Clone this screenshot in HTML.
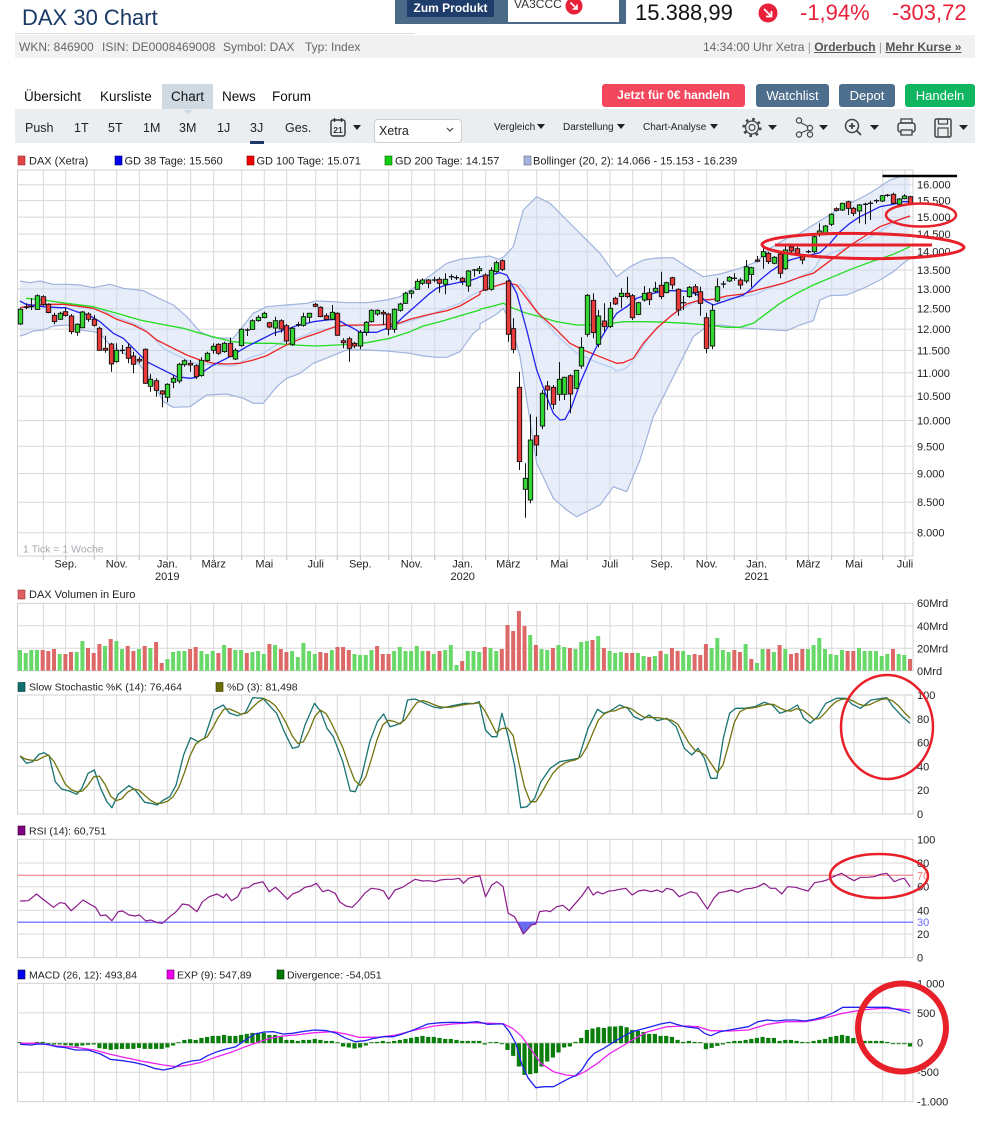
<!DOCTYPE html>
<html><head><meta charset="utf-8"><title>DAX 30 Chart</title>
<style>
*{margin:0;padding:0;box-sizing:border-box}
html,body{width:986px;height:1125px;overflow:hidden;background:#fff}
body{position:relative;font-family:"Liberation Sans",Arial,sans-serif;color:#222}
.a{position:absolute;white-space:nowrap}
.btn{position:absolute;top:84px;height:23px;border-radius:3px;color:#fff;font-size:13px;line-height:23px;text-align:center}
.tb{position:absolute;top:120px;font-size:12.5px;line-height:16px;color:#222;white-space:nowrap}
.tb2{position:absolute;top:121px;font-size:10px;line-height:14px;color:#222;white-space:nowrap}
.tab{position:absolute;top:89px;font-size:13.5px;line-height:16px;color:#111;white-space:nowrap}
.inf{position:absolute;top:40px;font-size:12px;line-height:14px;color:#666;white-space:nowrap}
svg{position:absolute;left:0;top:0}
</style></head><body>
<div class="a" style="left:22px;top:4px;font-size:22px;line-height:28px;color:#1a3966">DAX 30 Chart</div>
<div class="a" style="left:395px;top:0;width:231px;height:24px;background:#4b6a88"></div>
<div class="a" style="left:407px;top:0;width:87px;height:17px;background:#1f3d6b;color:#fff;font-size:12px;font-weight:bold;line-height:17px;text-align:center">Zum Produkt</div>
<div class="a" style="left:508px;top:0;width:111px;height:22px;background:#fff"></div>
<div class="a" style="left:514px;top:-3px;font-size:12px;line-height:14px;color:#333">VA3CCC</div>
<div class="a" style="left:635px;top:0;font-size:22px;line-height:26px;color:#111">15.388,99</div>
<div class="a" style="left:800px;top:0;font-size:22px;line-height:26px;color:#e8203a">-1,94%</div>
<div class="a" style="left:892px;top:0;font-size:22px;line-height:26px;color:#e8203a">-303,72</div>

<div class="a" style="left:15px;top:33px;width:400px;height:1px;background:#dedede"></div>
<div class="a" style="left:15px;top:35px;width:960px;height:23px;background:#f1f1f1"></div>
<div class="inf" style="left:19px">WKN: 846900</div>
<div class="inf" style="left:102px">ISIN: DE0008469008</div>
<div class="inf" style="left:223px">Symbol: DAX</div>
<div class="inf" style="left:305px">Typ: Index</div>
<div class="inf" style="left:703px">14:34:00 Uhr Xetra <span style="color:#999">|</span> <span style="text-decoration:underline;color:#555;font-weight:bold">Orderbuch</span> <span style="color:#999">|</span> <span style="text-decoration:underline;color:#555;font-weight:bold">Mehr Kurse »</span></div>

<div class="a" style="left:162px;top:84px;width:51px;height:26px;background:#cfd9e2"></div>
<div class="tab" style="left:24px">Übersicht</div>
<div class="tab" style="left:100px">Kursliste</div>
<div class="tab" style="left:171px">Chart</div>
<div class="tab" style="left:222px">News</div>
<div class="tab" style="left:272px">Forum</div>

<div class="btn" style="left:602px;width:143px;background:#f2475c;font-weight:bold;font-size:12px">Jetzt für 0€ handeln</div>
<div class="btn" style="left:756px;width:73px;background:#4d6e8c">Watchlist</div>
<div class="btn" style="left:839px;width:56px;background:#4d6e8c">Depot</div>
<div class="btn" style="left:905px;width:70px;background:#10b560">Handeln</div>

<div class="a" style="left:15px;top:109px;width:960px;height:34px;background:#eaeef1"></div>
<div class="tb" style="left:25px">Push</div>
<div class="tb" style="left:74px">1T</div>
<div class="tb" style="left:108px">5T</div>
<div class="tb" style="left:143px">1M</div>
<div class="tb" style="left:179px">3M</div>
<div class="tb" style="left:217px">1J</div>
<div class="tb" style="left:250px">3J</div>
<div class="a" style="left:250px;top:141px;width:14px;height:3px;background:#1a3966"></div>
<div class="tb" style="left:285px">Ges.</div>
<div class="a" style="left:374px;top:119px;width:88px;height:24px;background:#fff;border:1px solid #cfcfcf;border-radius:4px"></div>
<div class="tb" style="left:379px;top:123px">Xetra</div>
<div class="tb2" style="left:494px">Vergleich</div>
<div class="tb2" style="left:563px">Darstellung</div>
<div class="tb2" style="left:643px">Chart-Analyse</div>

<svg width="986" height="1125" viewBox="0 0 986 1125" font-family="Liberation Sans, Arial, sans-serif">
<circle cx="574" cy="6" r="8.5" fill="#e8203a"/>
<path d="M570.5 2.5 L577 9 M577 4.5 L577 9 L572.5 9" stroke="#fff" stroke-width="1.6" fill="none"/>
<circle cx="768" cy="13" r="9.5" fill="#e8203a"/>
<path d="M764 9 L771.5 16.5 M771.5 11 L771.5 16.5 L766 16.5" stroke="#fff" stroke-width="1.8" fill="none"/>
<polygon points="183,110 193,110 188,114" fill="#cfd9e2"/>
<rect x="331" y="120" width="14" height="16" rx="2" fill="none" stroke="#333" stroke-width="1.4"/>
<line x1="334.5" y1="118" x2="334.5" y2="122" stroke="#333" stroke-width="1.4"/>
<line x1="341.5" y1="118" x2="341.5" y2="122" stroke="#333" stroke-width="1.4"/>
<text x="338" y="133" font-size="8.5" font-weight="bold" text-anchor="middle" fill="#333">21</text>
<polygon points="353,125 361,125 357,130" fill="#222"/>
<polyline points="447,128 450,131 453,128" fill="none" stroke="#444" stroke-width="1.2"/>
<polygon points="537,124 545,124 541,129" fill="#222"/>
<polygon points="617,124 625,124 621,129" fill="#222"/>
<polygon points="710,124 718,124 714,129" fill="#222"/>
<circle cx="752" cy="127.5" r="6.5" fill="none" stroke="#444" stroke-width="1.3"/>
<circle cx="752" cy="127.5" r="8.3" fill="none" stroke="#444" stroke-width="2.6" stroke-dasharray="2.6 3.9"/>
<circle cx="752" cy="127.5" r="3" fill="none" stroke="#444" stroke-width="1.2"/>
<polygon points="768,125 777,125 772.5,130" fill="#222"/>
<circle cx="799" cy="120.5" r="2.6" fill="none" stroke="#444" stroke-width="1.2"/>
<circle cx="810" cy="128" r="2.6" fill="none" stroke="#444" stroke-width="1.2"/>
<circle cx="799" cy="134.5" r="2.6" fill="none" stroke="#444" stroke-width="1.2"/>
<circle cx="810" cy="134.5" r="2.6" fill="none" stroke="#444" stroke-width="1.2"/>
<path d="M800.5 122.5 L808 126.5 M808 130 L800.5 133" stroke="#444" stroke-width="1.2"/>
<polygon points="819,125 828,125 823.5,130" fill="#222"/>
<circle cx="852" cy="126" r="6.5" fill="none" stroke="#444" stroke-width="1.5"/>
<path d="M856.5 130.5 L861 135 M849 126 L855 126 M852 123 L852 129" stroke="#444" stroke-width="1.8"/>
<polygon points="870,125 879,125 874.5,130" fill="#222"/>
<rect x="898" y="123" width="17" height="9" rx="2.5" fill="none" stroke="#444" stroke-width="1.5"/>
<rect x="901" y="119" width="11" height="4" fill="none" stroke="#444" stroke-width="1.3"/>
<rect x="901" y="130" width="11" height="5" fill="#eaeef1" stroke="#444" stroke-width="1.3"/>
<rect x="935" y="119" width="16" height="18" rx="1.5" fill="none" stroke="#444" stroke-width="1.5"/>
<rect x="938.5" y="119" width="9" height="5" fill="none" stroke="#444" stroke-width="1.2"/>
<rect x="938" y="128" width="10" height="9" fill="none" stroke="#444" stroke-width="1.2"/>
<polygon points="959,125 968,125 963.5,130" fill="#222"/>

<g id="grid"></g>
<g id="dyn"></g>

<g font-size="11" fill="#222">
<rect x="18" y="156" width="7" height="9" fill="#e04444" stroke="#933" stroke-width="0.6"/><text x="29" y="164.5">DAX (Xetra)</text>
<rect x="115" y="156" width="7" height="9" fill="#0000ee" stroke="#006" stroke-width="0.6"/><text x="124.5" y="164.5">GD 38 Tage: 15.560</text>
<rect x="247" y="156" width="7" height="9" fill="#ee0000" stroke="#800" stroke-width="0.6"/><text x="256.5" y="164.5">GD 100 Tage: 15.071</text>
<rect x="385" y="156" width="7" height="9" fill="#11cc11" stroke="#060" stroke-width="0.6"/><text x="395" y="164.5">GD 200 Tage: 14.157</text>
<rect x="524" y="156" width="7" height="9" fill="#a4b4dc" stroke="#667" stroke-width="0.6"/><text x="533" y="164.5">Bollinger (20, 2): 14.066 - 15.153 - 16.239</text>
</g>
<text x="23" y="552.5" font-size="10.5" fill="#a8a8b0">1 Tick = 1 Woche</text>
<g font-size="11" fill="#222">
<text x="917" y="188.7">16.000</text><text x="917" y="204.6">15.500</text><text x="917" y="221.1">15.000</text>
<text x="917" y="238.1">14.500</text><text x="917" y="255.7">14.000</text><text x="917" y="274">13.500</text>
<text x="917" y="292.9">13.000</text><text x="917" y="312.6">12.500</text><text x="917" y="333.1">12.000</text>
<text x="917" y="354.5">11.500</text><text x="917" y="376.8">11.000</text><text x="917" y="400.2">10.500</text>
<text x="917" y="424.6">10.000</text><text x="917" y="450.3">9.500</text><text x="917" y="477.5">9.000</text>
<text x="917" y="506.2">8.500</text><text x="917" y="536.7">8.000</text>
</g>
<g font-size="11" fill="#222" text-anchor="middle">
<text x="65.7" y="567.5">Sep.</text><text x="116.7" y="567.5">Nov.</text><text x="167.3" y="567.5">Jan.</text>
<text x="213.7" y="567.5">März</text><text x="264.3" y="567.5">Mai</text><text x="315.7" y="567.5">Juli</text>
<text x="360.3" y="567.5">Sep.</text><text x="411.7" y="567.5">Nov.</text><text x="462.7" y="567.5">Jan.</text>
<text x="508.3" y="567.5">März</text><text x="559.3" y="567.5">Mai</text><text x="610" y="567.5">Juli</text>
<text x="661.7" y="567.5">Sep.</text><text x="706.7" y="567.5">Nov.</text><text x="756.7" y="567.5">Jan.</text>
<text x="808.3" y="567.5">März</text><text x="854" y="567.5">Mai</text><text x="905" y="567.5">Juli</text>
<text x="167.3" y="580">2019</text><text x="462.7" y="580">2020</text><text x="756.7" y="580">2021</text>
</g>
<g font-size="11" fill="#222">
<rect x="18" y="590" width="7" height="9" fill="#dd6060" stroke="#933" stroke-width="0.6"/><text x="29" y="598">DAX Volumen in Euro</text>
<text x="917" y="607">60Mrd</text><text x="917" y="630">40Mrd</text><text x="917" y="652.5">20Mrd</text><text x="917" y="675">0Mrd</text>
</g>
<g font-size="10.5" fill="#222">
<rect x="18" y="682.5" width="7" height="9" fill="#107070" stroke="#033" stroke-width="0.6"/><text x="29" y="690.5">Slow Stochastic %K (14): 76,464</text>
<rect x="216" y="682.5" width="7" height="9" fill="#6e6e08" stroke="#330" stroke-width="0.6"/><text x="227" y="690.5">%D (3): 81,498</text>
</g>
<g font-size="11" fill="#222">
<text x="917" y="699">100</text><text x="917" y="722.8">80</text><text x="917" y="746.6">60</text>
<text x="917" y="770.4">40</text><text x="917" y="794.2">20</text><text x="917" y="818">0</text>
</g>
<g font-size="10.5" fill="#222">
<rect x="18" y="826" width="7" height="9" fill="#800080" stroke="#303" stroke-width="0.6"/><text x="29" y="834.5">RSI (14): 60,751</text>
</g>
<g font-size="11" fill="#222">
<text x="917" y="843.3">100</text><text x="917" y="867">80</text><text x="917" y="879.3" fill="#f08080">70</text>
<text x="917" y="890.7">60</text><text x="917" y="914.3">40</text><text x="917" y="926.2" fill="#6a6aff">30</text>
<text x="917" y="938">20</text><text x="917" y="961.7">0</text>
</g>
<g font-size="10.5" fill="#222">
<rect x="18" y="970" width="7" height="9" fill="#0000ee" stroke="#003" stroke-width="0.6"/><text x="29" y="978.5">MACD (26, 12): 493,84</text>
<rect x="167" y="970" width="7" height="9" fill="#ee00ee" stroke="#606" stroke-width="0.6"/><text x="177" y="978.5">EXP (9): 547,89</text>
<rect x="277" y="970" width="7" height="9" fill="#007700" stroke="#030" stroke-width="0.6"/><text x="287" y="978.5">Divergence: -54,051</text>
</g>
<g font-size="11" fill="#222">
<text x="917" y="987.3">1.000</text><text x="917" y="1016.9">500</text><text x="917" y="1046.5">0</text>
<text x="917" y="1076.1">-500</text><text x="917" y="1105.7">-1.000</text>
</g>

<line x1="882.5" y1="176" x2="957" y2="176" stroke="#000" stroke-width="2.5"/>
<ellipse cx="921" cy="215" rx="35" ry="11.5" fill="none" stroke="#e8202a" stroke-width="2.5"/>
<ellipse cx="863" cy="246" rx="101" ry="12.5" fill="none" stroke="#e8202a" stroke-width="3" transform="rotate(0.8 863 246)"/>
<line x1="775" y1="245" x2="932" y2="245" stroke="#e8202a" stroke-width="3"/>
<ellipse cx="887" cy="727" rx="46" ry="52" fill="none" stroke="#e8202a" stroke-width="2.5"/>
<ellipse cx="879" cy="876" rx="49" ry="22" fill="none" stroke="#e8202a" stroke-width="2.5"/>
<ellipse cx="902" cy="1027.5" rx="44" ry="44" fill="none" stroke="#e8202a" stroke-width="6"/>
</svg>

<script>
(function(){
const VX=[43.3,65.7,94.3,116.7,139.3,167.3,190.7,213.7,241.7,264.3,286.7,315.7,337.3,360.3,388.7,411.7,434.7,462.7,485.7,508.3,536.7,559.3,587.3,610,632.7,661.7,684,706.7,734.3,756.7,786,808.3,831.7,854,882.7,905];
let g='';
function panel(y1,y2,hy){
  VX.forEach(x=>g+=`<line x1="${x}" y1="${y1}" x2="${x}" y2="${y2}" stroke="#d8d8d8" stroke-width="1"/>`);
  hy.forEach(y=>g+=`<line x1="17.5" y1="${y}" x2="913" y2="${y}" stroke="#d8d8d8" stroke-width="1"/>`);
  g+=`<rect x="17.5" y="${y1}" width="895.5" height="${(y2-y1).toFixed(1)}" fill="none" stroke="#d0d0d0" stroke-width="1"/>`;
}
panel(170,556,[184.7,200.6,217.1,234.1,251.7,270,288.9,308.6,329.1,350.5,372.8,396.2,420.6,446.3,473.5,502.2,532.7]);
VX.forEach(x=>g+=`<line x1="${x}" y1="556" x2="${x}" y2="560" stroke="#bbb"/>`);
panel(603.3,670.7,[625.8,648.2]);
panel(695,814,[718.8,742.6,766.4,790.2]);
panel(839.3,957.7,[863,886.7,910.3,934]);
panel(983.3,1101.7,[1012.9,1042.8,1072.3]);
document.getElementById('grid').innerHTML=g;

function pairs(a){const r=[];for(let i=0;i+1<a.length;i+=2)r.push([a[i],a[i+1]]);return r;}
function Z23(a2,a3){return pairs(a2).filter(p=>p[0]<=1440).map(p=>[p[0]/3,170+p[1]/3]).concat(pairs(a3).map(p=>[480+p[0]/3,170+p[1]/3]));}
function ZF(a,y0){return pairs(a).map(p=>[p[0]/1.59,y0+p[1]/3]);}
function P(pts){return pts.map(p=>p[0].toFixed(1)+','+p[1].toFixed(1)).join(' ');}
function interp(pts,x){if(x<=pts[0][0])return pts[0][1];for(let i=1;i<pts.length;i++){if(x<=pts[i][0]){const a=pts[i-1],b=pts[i];return a[1]+(b[1]-a[1])*(x-a[0])/((b[0]-a[0])||1);}}return pts[pts.length-1][1];}
let o='';
function pl(pts,c,w){o+=`<polyline points="${P(pts)}" fill="none" stroke="${c}" stroke-width="${w}" stroke-linejoin="round"/>`;}

const up2=[60,333,90,338,120,333,160,343,200,343,240,345,280,353,330,343,370,355,430,362,470,382,520,405,560,440,600,485,640,503,700,505,760,430,800,410,860,405,920,400,950,393,1000,395,1040,398,1100,398,1160,390,1200,380,1240,355,1290,317,1340,280,1380,268,1430,262,1440,261];
const up3=[0,262,30,258,55,268,70,262,100,230,130,120,170,80,210,100,260,150,310,200,360,250,410,320,450,290,490,270,530,264,580,263,620,290,670,320,720,312,780,295,830,275,870,235,920,205,960,190,1000,165,1040,140,1080,115,1120,95,1160,75,1200,50,1230,30,1260,20,1290,18];
const lo2=[60,498,80,492,100,483,130,480,160,468,200,465,240,480,280,485,300,490,330,525,380,555,420,585,460,640,490,695,520,712,570,710,620,675,680,672,730,685,760,700,790,700,830,650,860,625,900,610,940,580,990,560,1040,540,1100,540,1160,543,1230,550,1270,558,1310,562,1340,562,1380,545,1420,490,1440,475];
const lo3=[0,462,50,432,70,415,90,455,120,560,170,880,220,985,260,1020,290,1040,330,1020,360,1005,400,950,440,965,480,870,520,740,560,660,600,580,640,500,680,470,720,465,780,473,850,478,920,482,960,465,1000,452,1020,390,1050,377,1100,375,1150,355,1200,330,1240,305,1270,280,1290,265];
const blue2=[60,393,78,403,130,410,180,413,197,413,230,425,265,435,300,455,340,490,370,505,400,535,440,575,470,590,500,605,530,620,570,625,590,622,610,605,640,585,680,565,710,548,740,530,780,510,820,490,860,478,890,467,910,463,940,455,980,450,1010,448,1040,465,1060,475,1080,487,1100,487,1130,487,1160,475,1185,465,1210,440,1250,405,1290,370,1310,355,1340,345,1380,337,1400,335,1430,325];
const blue3=[0,320,30,315,60,308,80,315,110,370,140,480,170,600,200,680,220,730,240,750,255,748,275,710,300,640,330,570,360,510,390,460,410,430,440,410,470,385,500,375,540,365,570,362,600,362,630,365,660,378,680,395,700,405,720,398,760,385,790,375,810,360,840,330,870,305,900,285,930,270,960,262,990,255,1020,248,1050,220,1080,185,1110,160,1140,140,1170,125,1200,110,1240,103,1270,95,1290,95];
const red2=[60,413,100,405,150,403,190,403,230,408,280,415,320,432,350,448,400,465,440,485,470,510,510,530,560,555,600,570,640,580,680,582,720,580,760,570,800,557,840,535,880,515,920,500,960,487,1000,472,1030,466,1080,465,1130,465,1160,463,1190,462,1230,448,1280,435,1340,422,1380,408,1420,385,1440,373];
const red3=[0,365,40,350,80,338,110,345,140,385,175,430,220,470,270,520,310,540,360,560,410,580,430,578,460,565,490,520,530,475,570,440,620,402,660,390,700,388,740,378,790,372,830,360,870,350,910,340,950,325,1000,310,1040,280,1080,250,1120,220,1160,195,1200,170,1240,155,1290,138];
const green2=[78,385,130,390,200,400,280,410,350,430,420,450,480,462,550,475,600,490,650,503,700,515,750,520,820,520,880,525,950,528,1010,525,1060,522,1100,518,1170,505,1230,485,1270,468,1320,455,1380,437,1440,420];
const green3=[0,418,40,408,70,400,100,415,140,430,180,440,230,455,290,465,320,465,380,462,430,455,500,455,560,457,620,460,680,465,740,472,780,472,820,460,860,430,900,400,950,370,1000,345,1060,320,1120,295,1180,273,1240,253,1290,230];

const U=Z23(up2,up3), L=Z23(lo2,lo3);
o+=`<polygon points="${P(U)} ${P(L.slice().reverse())}" fill="#c9d9f4" fill-opacity="0.45" stroke="none"/>`;
pl(U,'#9fb3de',1.2);pl(L,'#9fb3de',1.2);
const pr=y=>16000*Math.exp(-(y-184.7)/502), yp=p=>184.7+502*Math.log(16000/p);
const M=[];for(let x=20;x<=910;x+=4){M.push([x,yp((pr(interp(U,x))+pr(interp(L,x)))/2)]);}
pl(M,'#bcd0f2',1.5);
pl(Z23(green2,green3),'#22dd22',1.3);
pl(Z23(red2,red3),'#ee2222',1.3);
pl(Z23(blue2,blue3),'#2222ee',1.3);

const C=[418,462,1,415,465,412,412,2,400,418,410,410,2,385,420,377,418,1,373,420,380,403,0,376,408,403,428,0,400,430,436,455,0,428,463,430,448,1,425,450,425,436,0,412,440,438,485,0,432,493,463,487,1,460,497,426,473,1,423,475,432,448,0,427,455,448,466,0,435,470,475,541,0,470,542,535,541,0,497,548,522,582,0,518,605,541,575,1,520,578,541,541,2,525,552,532,565,0,520,580,558,583,0,545,610,568,573,0,560,580,538,640,0,535,642,628,649,1,612,665,632,661,0,625,680,663,672,0,660,712,643,682,1,640,697,625,637,1,615,655,583,633,1,578,640,572,584,1,568,590,580,585,0,570,605,587,620,0,583,627,571,617,1,562,620,550,572,1,545,575,529,541,1,520,551,523,550,0,520,555,520,545,1,515,548,520,560,0,503,562,541,567,1,535,570,478,527,1,475,530,480,480,2,475,498,452,478,1,448,480,442,452,1,436,455,430,443,1,425,445,458,471,0,455,475,452,474,1,440,498,452,477,0,448,488,467,513,0,462,522,475,523,1,470,528,464,464,2,455,470,440,466,1,428,470,430,442,1,428,457,403,409,0,399,412,412,440,0,409,442,437,448,0,430,452,427,448,1,405,450,430,496,0,427,498,512,518,0,505,535,506,535,0,500,575,520,528,0,515,535,487,528,1,480,538,457,487,1,453,497,421,455,1,418,458,421,432,1,418,437,427,432,0,420,465,432,478,0,428,496,418,478,1,415,488,402,421,1,398,425,370,400,1,365,402,363,370,1,360,385,334,358,1,326,360,330,340,1,325,345,330,340,0,327,355,330,330,2,320,337,328,340,0,322,368,328,343,1,310,373,320,320,2,313,330,323,323,2,316,330,325,334,0,320,345,303,348,1,300,365,300,300,2,297,320,296,302,1,288,312,315,360,0,310,363,301,358,1,292,362,278,305,1,272,308,
272,298,0,268,303,333,493,0,330,515,476,538,0,445,550,652,875,0,605,900,925,958,1,880,1043,810,990,1,733,1000,797,825,0,740,858,670,768,1,660,778,648,660,0,633,720,652,703,0,645,718,628,673,1,576,692,622,673,1,620,690,617,672,0,613,730,601,655,1,600,658,532,588,1,502,596,376,493,1,372,500,391,488,0,370,505,438,523,1,420,532,453,470,0,400,485,415,470,1,396,474,385,402,0,380,405,370,380,1,355,415,370,380,0,320,385,377,443,0,372,450,398,433,1,395,436,370,390,1,348,395,368,389,0,355,405,355,364,1,335,368,346,380,0,305,388,338,368,1,335,370,323,345,0,320,358,358,420,0,355,437,398,398,2,378,420,352,380,1,348,383,350,368,0,342,378,365,400,0,350,437,443,535,0,428,550,421,528,1,403,538,350,393,1,325,397,342,342,2,333,353,322,333,1,318,336,325,325,2,310,332,330,345,0,323,358,290,333,1,270,340,293,313,1,290,352,270,274,0,258,277,245,260,1,235,296,250,275,0,245,282,262,280,1,258,283,252,310,0,248,325,240,296,1,228,300,231,243,0,228,248,236,250,0,230,255,260,270,0,255,283,245,245,2,240,250,200,245,1,195,250,183,195,1,160,200,168,193,1,165,196,133,163,1,130,168,116,121,0,112,124,100,120,1,98,123,95,115,0,92,135,115,130,0,110,138,105,123,1,102,160,103,103,2,98,163,100,100,2,92,150,92,92,2,88,100,77,93,1,75,96,76,76,2,72,80,73,100,0,68,102,87,103,1,84,106,78,86,1,73,88,80,100,0,77,104];
const N=Math.floor(C.length/5), DX=890/(N-1), Y=v=>170+v/3, CX=[];
for(let i=0;i<N;i++){
  const x=20+i*DX; CX.push(x);
  const bt=Y(C[i*5]),bb=Y(C[i*5+1]),c=C[i*5+2],wt=Y(C[i*5+3]),wb=Y(C[i*5+4]);
  const xr=(Math.round(x)+0.5);
  o+=`<line x1="${xr}" y1="${wt.toFixed(1)}" x2="${xr}" y2="${wb.toFixed(1)}" stroke="#111" stroke-width="1"/>`;
  if(c===2){o+=`<line x1="${(xr-2.6).toFixed(1)}" y1="${bt.toFixed(1)}" x2="${(xr+2.6).toFixed(1)}" y2="${bt.toFixed(1)}" stroke="#111" stroke-width="1.3"/>`;}
  else{const h=Math.max(bb-bt,1.2);o+=`<rect x="${(xr-2.2).toFixed(1)}" y="${bt.toFixed(1)}" width="4.4" height="${h.toFixed(1)}" fill="${c?'#33d633':'#e83a3a'}" stroke="#111" stroke-width="0.9"/>`;}
}
// volume (top in 3x zoom units from y=600; 1 green, 0 red)
const V=[150,1,159,1,150,1,150,1,150,0,153,0,147,0,162,1,162,0,156,0,156,1,123,1,144,0,159,0,132,0,138,1,117,0,123,1,147,1,138,0,153,0,147,1,138,0,144,1,126,0,189,0,177,1,156,1,153,1,153,1,147,0,141,0,153,1,162,1,153,1,159,0,135,1,144,0,150,1,150,1,159,0,156,1,153,1,162,1,132,0,135,1,147,0,156,0,153,1,171,1,129,1,153,1,162,1,156,0,159,0,150,1,141,0,141,0,150,0,162,1,165,1,165,1,150,1,138,0,162,0,162,0,153,1,141,1,153,1,153,1,138,1,153,1,153,0,162,1,153,0,150,1,135,1,195,1,183,0,153,1,153,1,156,1,141,0,144,1,153,1,147,0,75,0,93,0,33,0,78,0,105,1,135,0,147,1,150,1,144,0,135,1,141,1,144,0,147,1,126,1,123,1,120,0,108,1,144,0,153,1,159,1,156,1,159,0,159,0,159,1,168,1,171,0,168,1,153,0,162,1,144,0,153,0,153,1,165,1,162,0,165,0,132,0,144,1,114,1,150,1,156,1,150,0,156,0,132,1,177,0,189,1,147,1,147,0,156,1,135,0,147,1,162,0,159,0,147,0,147,1,135,1,114,1,147,1,162,1,165,1,150,1,153,0,153,0,144,1,153,1,153,1,153,1,168,1,162,1,147,0,162,1,165,1,177,0];
const NV=Math.min(N,V.length/2);
for(let i=0;i<NV;i++){const top=600+V[i*2]/3;o+=`<rect x="${(CX[i]-2).toFixed(1)}" y="${top.toFixed(1)}" width="4" height="${(670.7-top).toFixed(1)}" fill="${V[i*2+1]?'#68d868':'#dc6868'}"/>`;}
// stochastic
const K=ZF([32,513,42,535,52,530,62,508,70,503,78,512,88,590,98,612,110,618,122,628,130,610,140,565,150,555,160,610,170,650,178,668,188,628,205,602,215,615,230,652,240,655,250,660,260,645,270,635,280,600,292,510,303,458,315,470,325,460,340,375,355,360,365,385,378,392,390,383,402,338,418,340,430,365,440,385,452,440,465,490,475,485,485,420,500,355,510,380,520,430,530,455,545,530,557,618,565,620,575,575,588,470,600,410,610,387,620,425,630,420,640,410,648,345,660,342,672,352,688,365,700,370,712,365,725,360,740,355,752,356,762,350,772,435,782,455,790,455,798,385,808,455,818,540,828,668,838,665,850,640,860,590,875,550,890,530,905,525,920,520,935,430,950,373,960,385,970,378,985,360,998,370,1008,395,1020,405,1032,390,1045,407,1060,400,1075,425,1088,490,1100,510,1110,490,1120,520,1130,580,1140,580,1150,460,1160,385,1170,370,1185,370,1200,365,1215,352,1228,360,1240,385,1255,375,1268,360,1278,400,1288,415,1300,395,1313,355,1330,340,1345,340,1355,358,1368,370,1385,345,1410,338,1420,365,1435,395,1447,415],585);
const KS=CX.map(x=>interp(K,x)), D=[];
for(let i=0;i<N;i++){const a=KS.slice(Math.max(0,i-2),i+1);D.push([CX[i],a.reduce((s,v)=>s+v,0)/a.length]);}
pl(K,'#177372',1.3);pl(D,'#72720c',1.3);
// RSI
o+=`<line x1="17.5" y1="875.3" x2="913" y2="875.3" stroke="#f07070" stroke-width="1"/>`;
o+=`<line x1="17.5" y1="922.2" x2="913" y2="922.2" stroke="#5a5aff" stroke-width="1.2"/>`;
o+=`<polygon points="${P(ZF([822,277,825,285,832,312,838,300,845,285,852,282,853,277],830))}" fill="#6a6aee"/>`;
pl(ZF([32,213,45,212,58,192,70,210,85,232,95,218,103,220,113,242,122,228,132,210,145,225,152,232,160,257,168,255,178,272,188,245,195,243,205,255,215,258,222,255,232,273,240,270,250,278,258,280,270,260,280,245,290,222,300,225,313,245,322,215,333,200,345,192,355,203,360,192,368,212,378,200,385,175,395,173,403,162,418,155,428,185,438,172,448,190,457,208,465,192,475,185,485,172,495,168,503,160,513,185,522,180,533,190,540,215,550,228,560,232,570,213,580,190,590,175,603,178,610,183,618,208,628,180,640,172,650,160,660,148,672,153,682,152,692,155,700,150,710,148,720,148,730,145,737,160,745,145,755,140,763,138,772,200,782,165,790,155,800,170,808,250,818,260,825,285,832,312,838,300,845,285,852,282,858,245,868,242,875,245,885,230,895,226,905,242,915,220,925,198,935,170,943,195,950,185,958,192,968,183,975,182,985,178,995,175,1005,195,1015,183,1025,180,1035,185,1045,180,1053,187,1060,175,1070,180,1080,200,1090,192,1098,185,1108,190,1117,215,1125,237,1135,205,1143,188,1153,185,1163,180,1173,187,1185,177,1195,175,1205,170,1215,160,1225,175,1233,175,1243,192,1252,170,1265,172,1275,178,1285,183,1295,158,1305,155,1315,150,1325,140,1338,130,1348,142,1358,152,1368,142,1380,142,1390,140,1400,133,1410,130,1422,155,1432,147,1438,145,1447,170],830),'#8b1a8b',1.2);
// MACD
const MM=ZF([32,643,50,645,60,642,75,643,90,650,105,653,120,660,140,660,160,672,175,688,195,692,215,698,230,705,245,715,260,720,275,714,290,700,305,693,318,690,330,677,345,665,360,657,375,650,390,630,405,612,420,606,435,605,450,612,465,610,480,605,500,600,520,602,535,610,550,625,565,635,580,632,595,625,610,620,625,620,640,612,660,598,680,582,700,578,720,577,740,578,760,575,775,583,790,582,800,582,810,605,820,640,830,705,840,745,852,773,865,770,880,770,895,755,905,745,915,737,925,720,935,690,945,670,960,655,975,637,990,620,1005,605,1020,598,1035,590,1050,582,1065,577,1075,583,1090,590,1110,595,1120,610,1130,617,1145,605,1160,600,1175,595,1190,590,1205,575,1220,570,1235,573,1250,570,1265,570,1280,573,1295,568,1310,560,1325,548,1340,532,1360,532,1380,532,1400,532,1412,532,1425,538,1440,545,1447,550],830);
const EE=ZF([32,640,60,640,90,648,120,652,150,660,175,673,200,683,230,695,260,705,280,710,300,705,320,697,345,680,370,665,390,650,410,637,430,625,450,618,470,615,500,608,530,605,550,612,570,622,600,622,630,615,660,600,690,588,720,582,750,578,780,580,800,581,815,595,830,620,845,660,860,700,880,725,900,735,915,738,930,725,950,700,970,670,990,648,1010,625,1030,605,1060,590,1090,588,1110,590,1130,602,1160,603,1190,600,1220,583,1250,575,1280,575,1310,565,1340,550,1370,540,1400,535,1430,537,1447,540],830);
const DV=[1,-2,-2,4,4,-3,-4,-4,-6,-7,-10,-7,-5,-4,-15,-17,-20,-18,-17,-17,-17,-14,-17,-17,-17,-17,-13,-7,2,10,12,10,16,19,22,22,25,22,22,25,28,31,31,31,25,25,19,10,10,7,10,10,13,10,7,7,1,-10,-13,-16,-13,-7,2,4,7,4,7,10,13,16,19,22,19,19,16,13,13,10,7,7,7,7,-4,3,4,-1,-20,-38,-70,-95,-93,-90,-70,-55,-43,-28,-13,-10,4,16,40,44,48,46,50,50,52,48,40,37,34,28,28,22,22,19,10,4,7,4,1,-18,-14,-8,-4,4,7,7,10,13,16,19,16,16,7,10,10,7,4,1,7,10,13,19,22,25,22,16,10,7,7,7,7,4,-1,-3,-3,-10];
const Z0=1043.2;
for(let i=0;i<Math.min(N,DV.length);i++){let h=Math.abs(DV[i])/3;if(h<1)h=1;const y=DV[i]>=0?Z0-h:Z0;o+=`<rect x="${(CX[i]-2.1).toFixed(1)}" y="${y.toFixed(1)}" width="4.2" height="${h.toFixed(1)}" fill="#0b7d0b"/>`;}
pl(EE,'#ee22ee',1.3);pl(MM,'#2222ee',1.3);
document.getElementById('dyn').innerHTML=o;
})();
</script>
</body></html>
